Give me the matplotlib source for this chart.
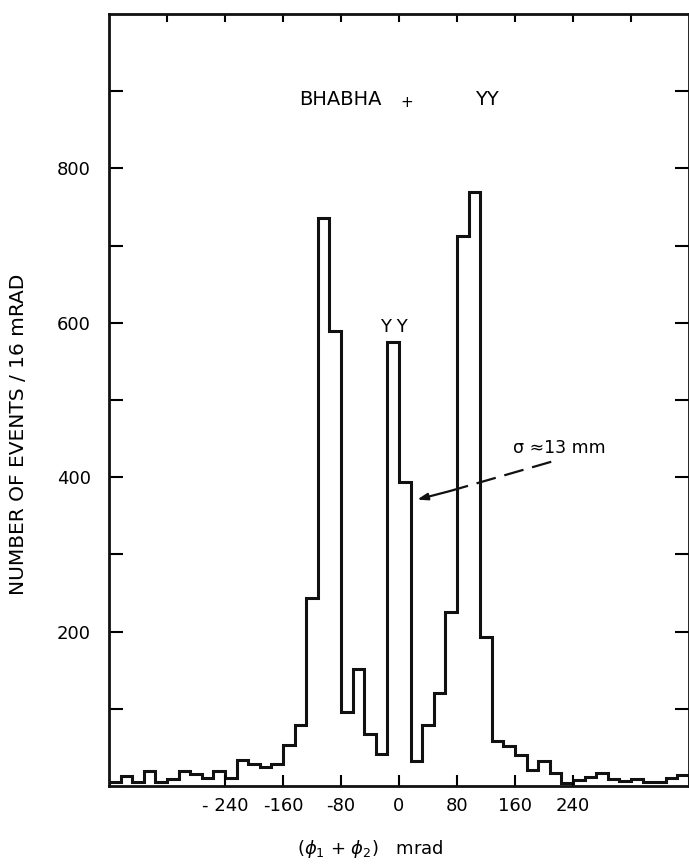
import matplotlib
matplotlib.use("Agg")
import matplotlib.pyplot as plt
import numpy as np

# histogram of (phi1 + phi2), 16 mrad bins from -400 to +400 mrad
bin_width = 16
x_lo, x_hi = -400, 400
counts = [5, 13, 5, 20, 5, 9, 19, 15, 10, 20,
          11, 34, 28, 25, 28, 53, 79, 244, 736, 589,
          96, 152, 68, 42, 575, 394, 32, 79, 120, 225,
          712, 770, 193, 58, 52, 40, 21, 32, 17, 4,
          8, 12, 17, 9, 6, 9, 5, 5, 10, 14]

xticks = [-240, -160, -80, 0, 80, 160, 240]
xticklabels = ["- 240", "-160", "-80", "0", "80", "160", "240"]
top_ticks = [-320, -240, -160, -80, 0, 80, 160, 240, 320]
yticks = [200, 400, 600, 800]
yminor = [100, 300, 500, 700, 900]

_font = "DejaVu Sans"
_ink = "#111111"

edges = np.arange(x_lo, x_hi + bin_width, bin_width)

fig = plt.figure(figsize=(6.89, 8.67), dpi=100)
ax = fig.add_axes([109 / 689, 81 / 867, 580 / 689, 772 / 867])

ax.stairs(counts, edges, baseline=0, color=_ink, lw=2.2)

ax.set_xlim(x_lo, x_hi)
ax.set_ylim(0, 1000)

for sp in ax.spines.values():
    sp.set_linewidth(2.0)
    sp.set_color(_ink)

ax.set_xticks(xticks)
ax.set_xticklabels(xticklabels, fontsize=13, family=_font)
ax.tick_params(axis="x", direction="in", length=8, width=1.5, pad=8,
               top=False, bottom=True)

ax.set_yticks(yticks)
ax.set_yticks(yminor, minor=True)
ax.set_yticklabels([str(v) for v in yticks], fontsize=13, family=_font)
ax.tick_params(axis="y", which="both", direction="in", length=10,
               width=1.5, pad=13, left=True, right=True)

top = ax.secondary_xaxis("top")
top.set_xticks(top_ticks)
top.set_xticklabels([])
top.tick_params(direction="in", length=6, width=1.5)

ax.set_ylabel("NUMBER OF EVENTS / 16 mRAD", fontsize=14.5, family=_font)
ax.yaxis.set_label_coords(-0.14, 0.455)
ax.set_xlabel(r"($\phi_1$ + $\phi_2$)   mrad", fontsize=13, family=_font)
ax.xaxis.set_label_coords(0.45, -0.068)

# annotations
ax.text(-81, 889, "BHABHA", fontsize=14, ha="center", va="center", family=_font)
ax.text(10, 886, "+", fontsize=11, ha="center", va="center", family=_font)
ax.text(121, 889, "YY", fontsize=14, ha="center", va="center", family=_font)
ax.text(-7, 594, "Y Y", fontsize=13, ha="center", va="center", family=_font)
ax.text(157, 438, "σ ≈13 mm", fontsize=12.5, ha="left", va="center", family=_font)

# dashed pointer with a solid arrow head segment
ax.plot([210, 70], [420, 382], color=_ink, lw=1.6, ls=(0, (9, 4)))
ax.annotate("", xy=(25, 371), xytext=(70, 382),
            arrowprops=dict(arrowstyle="-|>,head_length=0.6,head_width=0.2",
                            color=_ink, lw=1.6, shrinkA=0, shrinkB=0))

fig.savefig("out.png", dpi=100)
